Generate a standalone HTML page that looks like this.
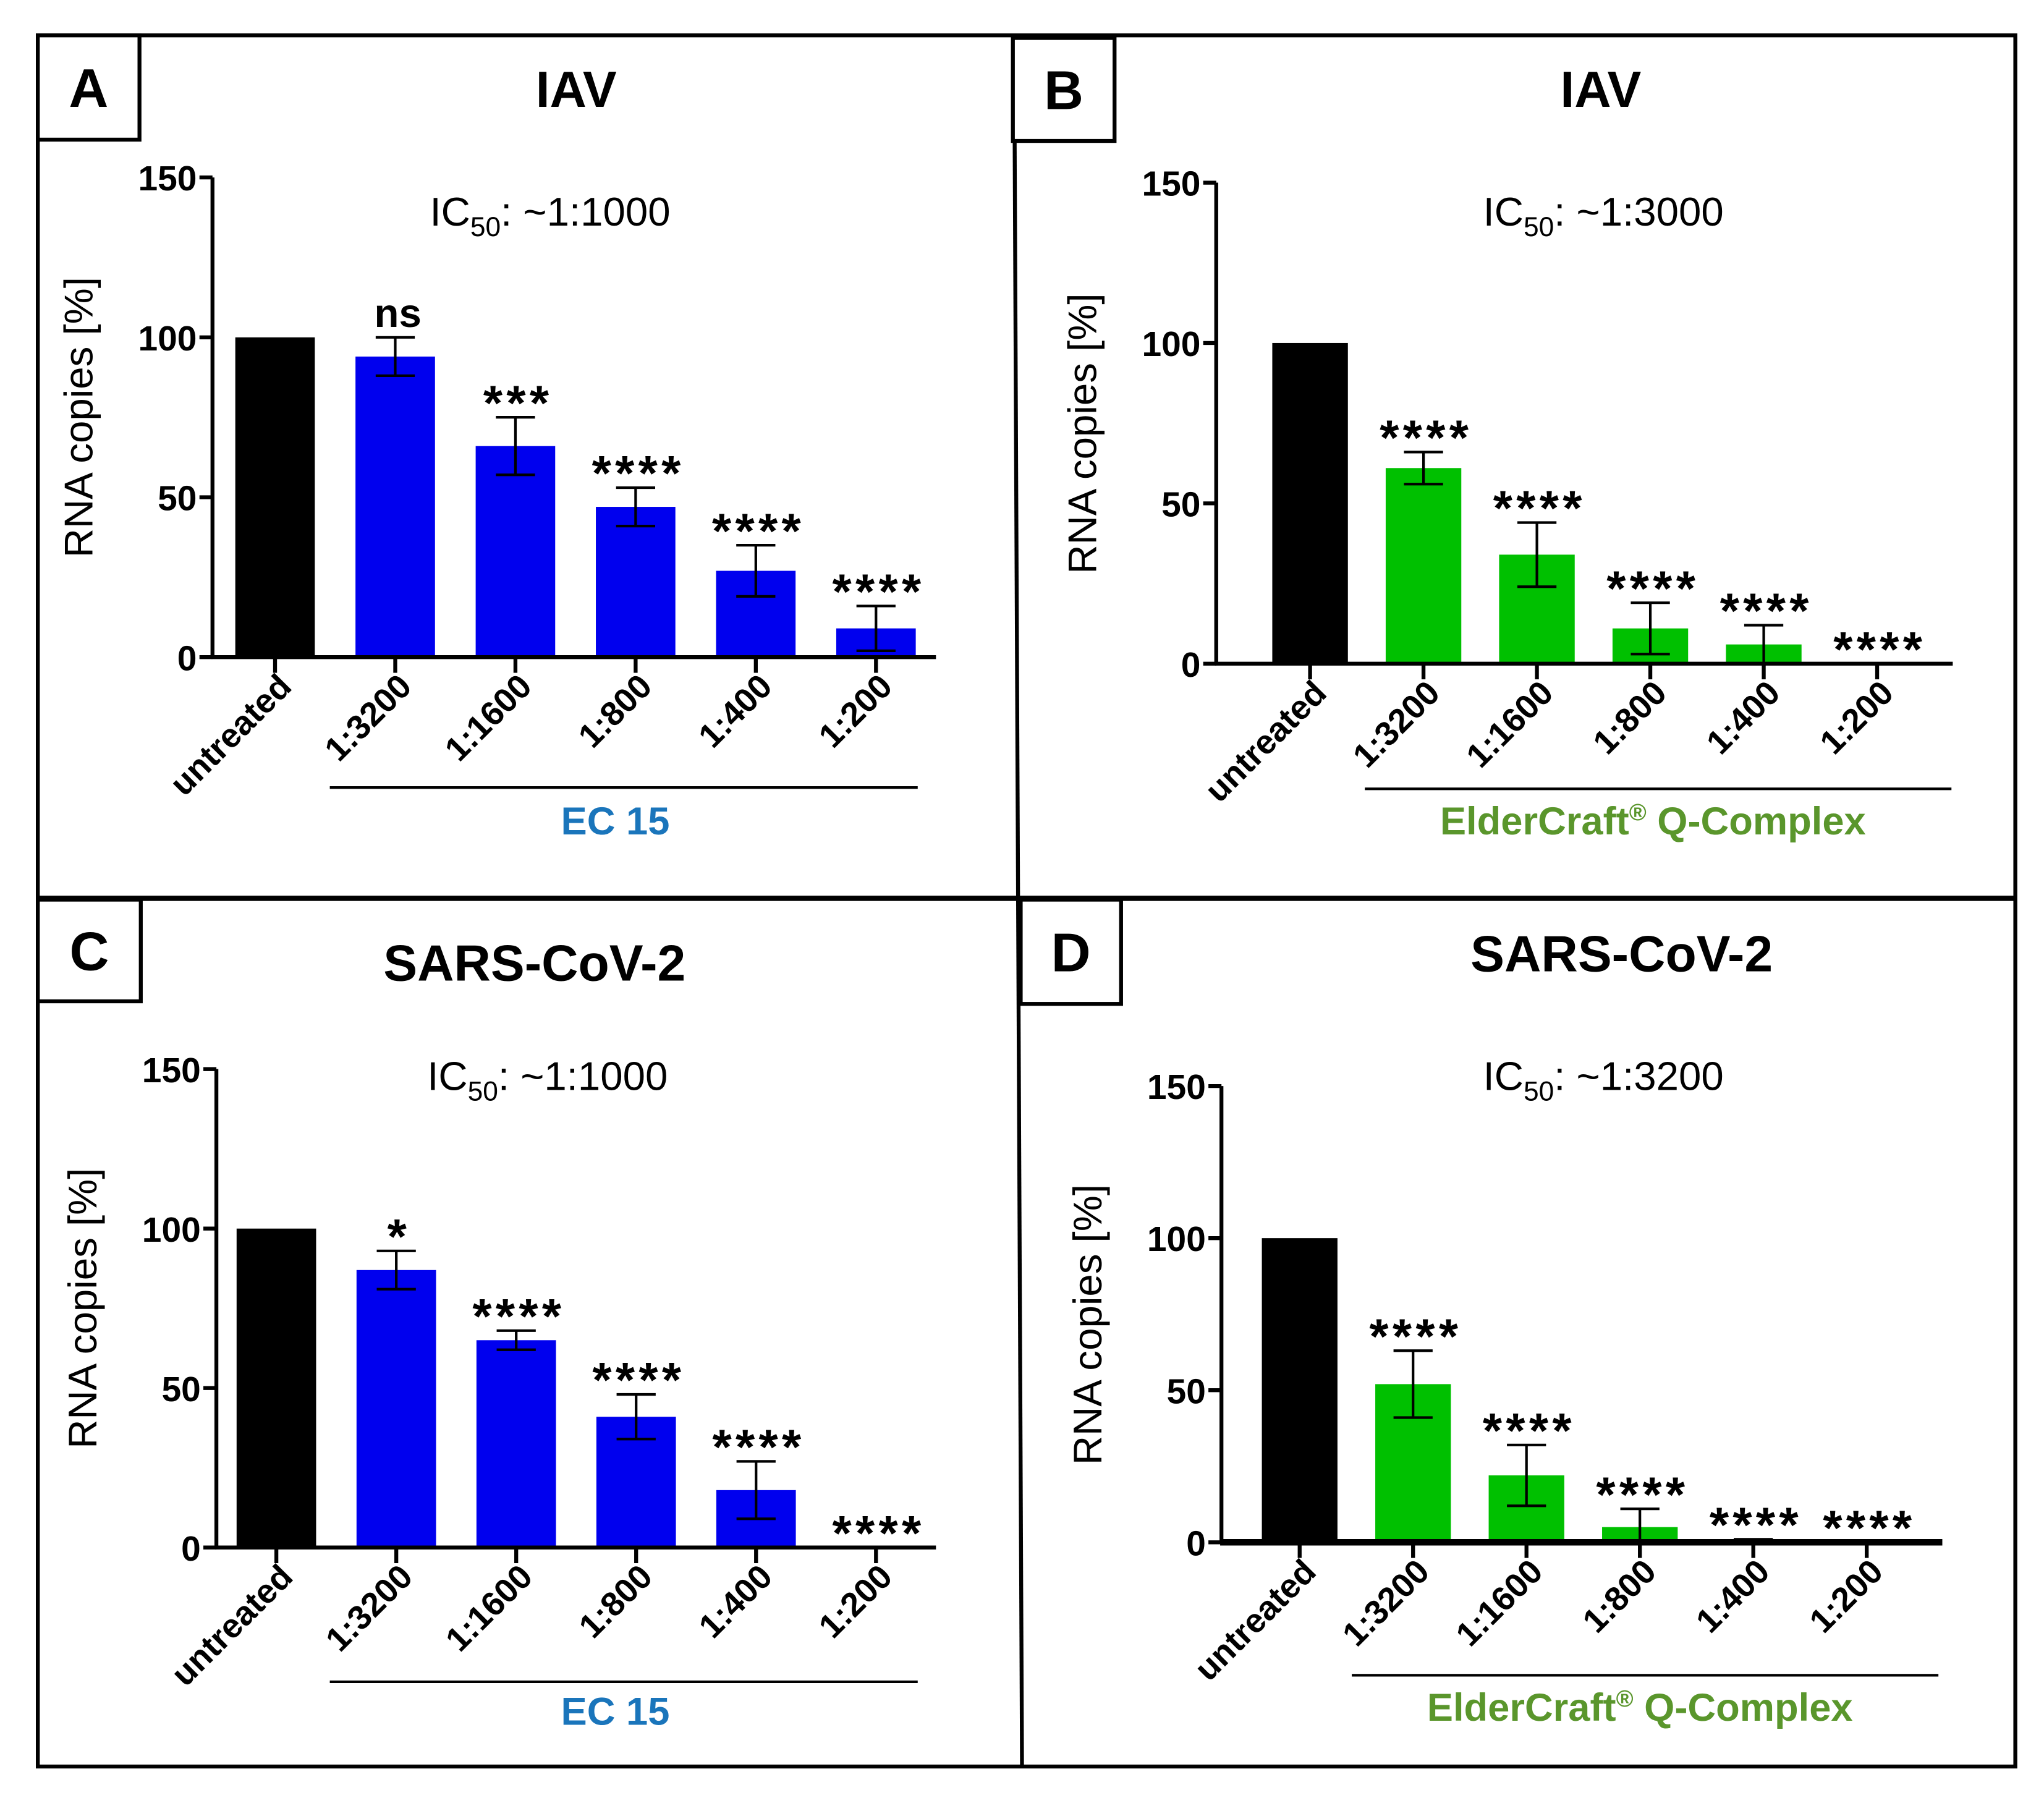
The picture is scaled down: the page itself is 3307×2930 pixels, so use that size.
<!DOCTYPE html>
<html><head><meta charset="utf-8"><style>
html,body{margin:0;padding:0;background:#fff}
svg{display:block}
text{font-family:"Liberation Sans",sans-serif}
</style></head><body>
<svg id="fig" width="3307" height="2930" viewBox="0 0 1568 1389" xmlns="http://www.w3.org/2000/svg">
<rect x="0" y="0" width="1568" height="1389" fill="#fff"/>
<g fill="none" stroke="#000" stroke-width="3">
<rect x="29" y="27" width="1517" height="1328"/>
<line x1="778" y1="27" x2="784" y2="1355"/>
<line x1="29" y1="689" x2="1546" y2="689" stroke-width="4"/>
</g>
</svg>
<script>
const categories = ["untreated","1:3200","1:1600","1:800","1:400","1:200"];
const valuesA = [100,94,66,47,27,9];
const errorsA = [0,6,9,6,8,7];
const annotA = ["","ns","***","****","****","****"];
const valuesB = [100,61,34,11,6,0];
const errorsB = [0,5,10,8,6,0];
const annotB = ["","****","****","****","****","****"];
const valuesC = [100,87,65,41,18,0];
const errorsC = [0,6,3,7,9,0];
const annotC = ["","*","****","****","****","****"];
const valuesD = [100,52,22,5,0,0];
const errorsD = [0,11,10,6,1,0];
const annotD = ["","****","****","****","****","****"];
const yTicks = [0,50,100,150];
const panelLetters = ["A","B","C","D"];
const panelTitles = ["IAV","IAV","SARS-CoV-2","SARS-CoV-2"];
const ic50Labels = ["~1:1000","~1:3000","~1:1000","~1:3200"];
const groupLabels = ["EC 15","ElderCraft|Q-Complex","EC 15","ElderCraft|Q-Complex"];

const NS="http://www.w3.org/2000/svg";
const svg=document.getElementById('fig');
function mk(tag,attrs,parent,txt){const e=document.createElementNS(NS,tag);for(const k in attrs)e.setAttribute(k,attrs[k]);if(txt!==undefined)e.textContent=txt;(parent||svg).appendChild(e);return e;}

const layouts=[
 {ax:163,y0:504,y150:136,xEnd:718,c0:211,step:92.2,bw:61,ulY:604,ulX1:253,ulX2:704,glX:472,glY:640,glc:"#1a75bb",tX:442,tY:82,icX:422,icY:173,box:[29,27,78,80],color:"#0000ee",vals:valuesA,errs:errorsA,ann:annotA,axW:3},
 {ax:933,y0:509,y150:140,xEnd:1498,c0:1005,step:87,bw:58,ulY:605,ulX1:1047,ulX2:1497,glX:1268,glY:640,glc:"#5a962c",tX:1228,tY:82,icX:1230,icY:173,box:[777,29,78,79],color:"#00c000",vals:valuesB,errs:errorsB,ann:annotB,axW:3},
 {ax:166,y0:1187,y150:820,xEnd:718,c0:212,step:92,bw:61,ulY:1290,ulX1:253,ulX2:704,glX:472,glY:1323,glc:"#1a75bb",tX:410,tY:752,icX:420,icY:836,box:[29,690,79,78],color:"#0000ee",vals:valuesC,errs:errorsC,ann:annotC,axW:3},
 {ax:937,y0:1183,y150:833,xEnd:1490,c0:997,step:87,bw:58,ulY:1285,ulX1:1037,ulX2:1487,glX:1258,glY:1320,glc:"#5a962c",tX:1244,tY:745,icX:1230,icY:836,box:[783,690,77,80],color:"#00c000",vals:valuesD,errs:errorsD,ann:annotD,axW:5}
];

layouts.forEach((L,p)=>{
 const g=mk('g',{});
 
 
 const yS=v=>L.y0-(v/150)*(L.y0-L.y150);
 const xS=i=>L.c0+i*L.step;
 const b=L.box;
 const bx=mk('rect',{x:b[0],y:b[1],width:b[2],height:b[3],fill:'#fff',stroke:'#000','stroke-width':3},g);
 
 
 const lt=mk('text',{x:b[0]+b[2]/2,y:b[1]+b[3]/2+15,'text-anchor':'middle','font-size':42,'font-weight':'bold'},g,panelLetters[p]);
 
 
 const tt=mk('text',{x:L.tX,y:L.tY,'text-anchor':'middle','font-size':39,'font-weight':'bold'},g,panelTitles[p]);
 
 
 const ic=mk('text',{x:L.icX,y:L.icY,'text-anchor':'middle','font-size':31},g);
 
 
 mk('tspan',{},ic,'IC');
 mk('tspan',{'font-size':21,dy:8},ic,'50');
 mk('tspan',{dy:-8},ic,': '+ic50Labels[p]);
 L.vals.forEach((v,i)=>{
  const x=xS(i);
  const top=yS(v);
  const r=mk('rect',{x:x-L.bw/2,y:top,width:L.bw,height:Math.max(0,L.y0-top),fill:i===0?'#000':L.color},g);
  
  
  const e=L.errs[i];
  let errTop=top;
  if(e>0){
   const hi=yS(v+e),lo=yS(Math.max(0,v-e));errTop=hi;
   const eb=mk('path',{d:`M${x},${hi}V${lo}M${x-15},${hi}H${x+15}M${x-15},${lo}H${x+15}`,stroke:'#000','stroke-width':2,fill:'none'},g);
   
   
  }
  const a=L.ann[i];
  if(a){
   const isStar=a.indexOf('*')>=0;
   const t=mk('text',{x:x+(isStar?2:2),y:isStar?errTop+2:errTop-8,'text-anchor':'middle','font-size':isStar?38:31,'font-weight':'bold','letter-spacing':isStar?3:0},g,a);
   
   
  }
  const tk=mk('line',{x1:x,y1:L.y0,x2:x,y2:L.y0+12,stroke:'#000','stroke-width':3},g);
  
  
  const cl=mk('text',{x:x+14,y:L.y0+24,'text-anchor':'end','font-size':26,'font-weight':'bold',transform:`rotate(-45 ${x+14} ${L.y0+24})`},g,categories[i]);
  
  
 });
 const ya=mk('line',{x1:L.ax,y1:L.y150,x2:L.ax,y2:L.y0+1,stroke:'#000','stroke-width':3},g);
 
 
 const xa=mk('line',{x1:L.ax-1,y1:L.y0,x2:L.xEnd,y2:L.y0,stroke:'#000','stroke-width':L.axW},g);
 
 
 yTicks.forEach(v=>{
  const y=yS(v);
  const t=mk('line',{x1:L.ax-10,y1:y,x2:L.ax,y2:y,stroke:'#000','stroke-width':3},g);
  
  
  const tl=mk('text',{x:L.ax-12,y:y+10,'text-anchor':'end','font-size':27,'font-weight':'bold'},g,String(v));
  
  
 });
 const ymid=(L.y0+L.y150)/2+(p%2?8:0);
 const yt=mk('text',{x:L.ax-92,y:ymid,'text-anchor':'middle','font-size':31,transform:`rotate(-90 ${L.ax-92} ${ymid})`},g,'RNA copies [%]');
 
 
 const ul=mk('line',{x1:L.ulX1,y1:L.ulY,x2:L.ulX2,y2:L.ulY,stroke:'#000','stroke-width':2},g);
 
 
 const gl=mk('text',{x:L.glX,y:L.glY,'text-anchor':'middle','font-size':30,'font-weight':'bold',fill:L.glc},g);
 
 
 const parts=groupLabels[p].split('|');
 if(parts.length>1){
  mk('tspan',{},gl,parts[0]);
  mk('tspan',{'font-size':18,dy:-11},gl,'\u00ae');
  mk('tspan',{dy:11},gl,' '+parts[1]);
 } else { gl.textContent=parts[0]; }
});
</script>
</body></html>
